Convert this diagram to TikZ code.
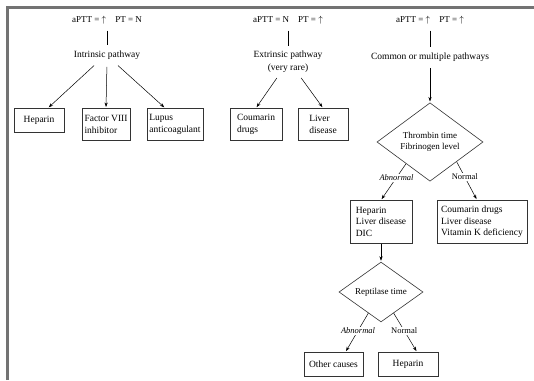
\documentclass[tikz,border=0pt]{standalone}
\usepackage{fontspec}
\setmainfont{Liberation Serif}
\usetikzlibrary{shapes.geometric,arrows.meta,calc,shadows}

\begin{document}
\begin{tikzpicture}[x=1pt,y=-1pt,
  every node/.style={font=\fontsize{9.5}{11.5}\selectfont},
  hdr/.style={font=\fontsize{9}{11}\selectfont},
  lbl/.style={align=center, font=\fontsize{9.5}{13}\selectfont},
  box/.style={draw=black!80, line width=0.6pt, fill=white, align=left,
    inner sep=2.5pt, anchor=north,
    drop shadow={shadow xshift=0.8pt, shadow yshift=-0.8pt, fill=black!30, opacity=1}},
  dia/.style={diamond, draw=black!80, line width=0.6pt, fill=white,
    inner sep=0pt, align=center, font=\fontsize{9}{11}\selectfont},
  arr/.style={-{Stealth[length=4.5pt,width=3.2pt]}, line width=0.5pt, shorten >=1pt},
  lab/.style={fill=white, inner sep=1pt, font=\fontsize{8.5}{10}\selectfont},
  frame/.style={line width=2.5pt, black!55}
]
\useasboundingbox (0,0) rectangle (534,380);

% page frame
\draw[frame] (7.5,380) -- (7.5,7.5) -- (534,7.5);

% intrinsic pathway
\node[hdr] (h1) at (107,20) {aPTT = $\uparrow$\quad PT = N};
\node (p1) at (107,55) {Intrinsic pathway};
\draw[line width=0.5pt, shorten <=3pt, shorten >=2pt] (h1) -- (p1);
\node[box, minimum width=50pt, minimum height=24pt] (b1) at (39,108) {Heparin};
\node[box, minimum width=48pt, minimum height=32pt] (b2) at (106,108) {Factor VIII\\inhibitor};
\node[box, minimum width=52pt, minimum height=32pt] (b3) at (175,108) {Lupus\\anticoagulant};
\draw[arr, shorten <=4pt] ([xshift=-10pt]p1.south) -- ([xshift=9pt]b1.north);
\draw[arr, shorten <=4pt] (p1.south) -- (b2.north);
\draw[arr, shorten <=4pt] ([xshift=8pt]p1.south) -- ([xshift=-10pt]b3.north);

% extrinsic pathway
\node[hdr] (h2) at (288,20) {aPTT = N\quad PT = $\uparrow$};
\node[lbl] (p2) at (288,62) {Extrinsic pathway\\(very rare)};
\draw[line width=0.5pt, shorten <=3pt, shorten >=2pt] (h2) -- (p2);
\node[box, minimum width=52pt, minimum height=32pt] (b4) at (256,108) {Coumarin\\drugs};
\node[box, minimum width=50pt, minimum height=32pt] (b5) at (323,108) {Liver\\disease};
\draw[arr, shorten <=2pt] ([xshift=-10pt]p2.south) -- (b4.north);
\draw[arr, shorten <=2pt] ([xshift=12pt]p2.south) -- (b5.north);

% common or multiple pathways
\node[hdr] (h3) at (430,20) {aPTT = $\uparrow$\quad PT = $\uparrow$};
\node (p3) at (430,57) {Common or multiple pathways};
\draw[line width=0.5pt, shorten <=3pt, shorten >=2pt] (h3) -- (p3);
\node[dia, minimum width=106pt, minimum height=64pt] (d1) at (430,142) {Thrombin time\\Fibrinogen level};
\draw[arr, shorten <=3pt] (p3) -- (d1);

\node[box, minimum width=62pt, minimum height=43pt] (b6) at (381,200) {Heparin\\Liver disease\\DIC};
\node[box, minimum width=90pt, minimum height=43pt] (b7) at (482,200) {Coumarin drugs\\Liver disease\\Vitamin K deficiency};
\draw[arr] ($(d1.west)!0.55!(d1.south)$) -- node[lab, pos=0.38] {\textit{Abnormal}} (b6.north);
\draw[arr] ($(d1.east)!0.5!(d1.south)$) -- node[lab, pos=0.4] {Normal} ([xshift=-5pt]b7.north);

\node[dia, minimum width=84pt, minimum height=54pt] (d2) at (381,292) {Reptilase time};
\draw[arr] (b6) -- (d2);

\node[box, minimum width=59pt, minimum height=24pt] (b8) at (333.5,352) {Other causes};
\node[box, minimum width=60pt, minimum height=24pt] (b9) at (408,352) {Heparin};
\draw[arr] ($(d2.west)!0.7!(d2.south)$) -- node[lab, pos=0.45] {\textit{Abnormal}} ([xshift=12pt]b8.north);
\draw[arr] ($(d2.east)!0.7!(d2.south)$) -- node[lab, pos=0.45] {Normal} ([xshift=9pt]b9.north);
\end{tikzpicture}
\end{document}
